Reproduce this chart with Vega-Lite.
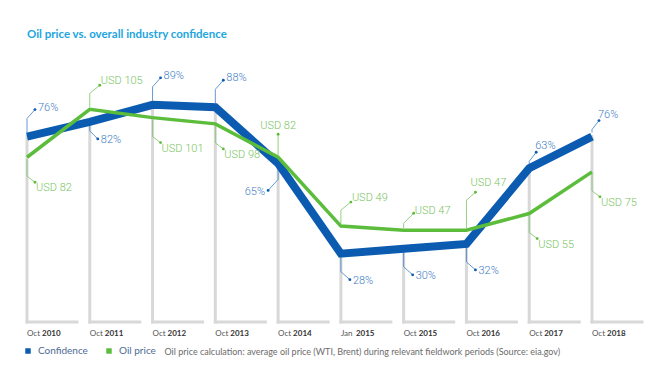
{
  "$schema": "https://vega.github.io/schema/vega-lite/v6.json",
  "autosize": {"type": "none"},
  "padding": {"left": 27, "top": 78, "right": 78, "bottom": 68},
  "width": 565,
  "height": 244,
  "title": {"text": "Oil price vs. overall industry confidence", "anchor": "start", "frame": "group", "font": "Lato", "fontSize": 11.5, "fontWeight": "bold", "color": "#22a5de", "offset": 29},
  "config": {
    "view": {"stroke": null},
    "text": {"font": "Roboto", "fontWeight": 300, "fontSize": 11},
    "legend": {"orient": "none", "legendX": -4, "legendY": 268, "direction": "horizontal", "symbolType": "square", "symbolSize": 30, "symbolStrokeWidth": 0, "labelFont": "Lato", "labelFontSize": 10, "labelColor": "#4d6b94", "columnPadding": 16, "labelOffset": 5, "padding": 0}
  },
  "data": {"values": [
    {"period": "Oct 2010", "month": "Oct", "year": "2010", "conf": 76, "oil": 82},
    {"period": "Oct 2011", "month": "Oct", "year": "2011", "conf": 82, "oil": 105},
    {"period": "Oct 2012", "month": "Oct", "year": "2012", "conf": 89, "oil": 101},
    {"period": "Oct 2013", "month": "Oct", "year": "2013", "conf": 88, "oil": 98},
    {"period": "Oct 2014", "month": "Oct", "year": "2014", "conf": 65, "oil": 82},
    {"period": "Jan 2015", "month": "Jan", "year": "2015", "conf": 28, "oil": 49},
    {"period": "Oct 2015", "month": "Oct", "year": "2015", "conf": 30, "oil": 47},
    {"period": "Oct 2016", "month": "Oct", "year": "2016", "conf": 32, "oil": 47},
    {"period": "Oct 2017", "month": "Oct", "year": "2017", "conf": 63, "oil": 55},
    {"period": "Oct 2018", "month": "Oct", "year": "2018", "conf": 76, "oil": 75}
  ]},
  "encoding": {
    "x": {"field": "period", "type": "ordinal", "sort": null, "scale": {"type": "point", "padding": 0},
      "axis": {"labels": false, "ticks": false, "domain": false, "grid": false,
        "title": "Oil price calculation: average oil price (WTI, Brent) during relevant fieldwork periods (Source: eia.gov)",
        "titleFont": "Lato", "titleFontSize": 9, "titleFontWeight": "normal", "titleColor": "#6b6b6b",
        "titleAnchor": "start", "titleAlign": "left", "titleX": 137, "titleY": 29, "titleBaseline": "middle"}}
  },
  "layer": [
    {
      "encoding": {"y": {"field": "conf", "type": "quantitative", "scale": {"domain": [0, 100]}, "axis": null}},
      "layer": [
        {"mark": {"type": "rule", "color": "#d8d8d8", "strokeWidth": 3, "strokeCap": "square"}, "encoding": {"y2": {"datum": 0}}},
        {"mark": {"type": "rule", "color": "#d8d8d8", "strokeWidth": 3, "strokeCap": "square", "x2Offset": 50}, "encoding": {"y": {"datum": 0}, "x2": {"field": "period"}}},
        {"mark": {"type": "text", "align": "left", "baseline": "middle", "dy": 12, "font": "Lato", "fontWeight": "normal", "fontSize": 8, "color": "#555555"}, "encoding": {"y": {"datum": 0}, "text": {"field": "month"}}},
        {"mark": {"type": "text", "align": "left", "baseline": "middle", "dy": 12, "dx": 15, "font": "Lato", "fontSize": 8, "fontWeight": "bold", "color": "#333333"}, "encoding": {"y": {"datum": 0}, "text": {"field": "year"}}},

        {"transform": [{"filter": {"field": "period", "oneOf": ["Oct 2010", "Oct 2012", "Oct 2013"]}}], "layer": [
          {"mark": {"type": "rule", "color": "#3f7ec6", "strokeWidth": 0.8, "yOffset": -4, "y2Offset": -18}, "encoding": {"y2": {"field": "conf"}}},
          {"mark": {"type": "rule", "color": "#3f7ec6", "strokeWidth": 0.8, "yOffset": -18, "x2Offset": 8, "y2Offset": -27}, "encoding": {"x2": {"field": "period"}, "y2": {"field": "conf"}}},
          {"mark": {"type": "point", "filled": true, "size": 8, "opacity": 1, "strokeWidth": 0, "xOffset": 8, "yOffset": -27}, "encoding": {"color": {"datum": "Confidence", "scale": {"domain": ["Confidence", "Oil price"], "range": ["#0b5cb0", "#5cbd3c"]}, "title": null}}},
          {"transform": [{"calculate": "datum.conf + '%'", "as": "lbl"}], "mark": {"type": "text", "align": "left", "baseline": "middle", "dx": 11, "dy": -29, "color": "#3f7ec6"}, "encoding": {"text": {"field": "lbl"}}}
        ]},
        {"transform": [{"filter": {"field": "period", "oneOf": ["Oct 2017", "Oct 2018"]}}], "layer": [
          {"mark": {"type": "rule", "color": "#3f7ec6", "strokeWidth": 0.8, "yOffset": -4, "y2Offset": -7}, "encoding": {"y2": {"field": "conf"}}},
          {"mark": {"type": "rule", "color": "#3f7ec6", "strokeWidth": 0.8, "yOffset": -7, "x2Offset": 7, "y2Offset": -16}, "encoding": {"x2": {"field": "period"}, "y2": {"field": "conf"}}},
          {"mark": {"type": "point", "filled": true, "size": 8, "opacity": 1, "strokeWidth": 0, "xOffset": 7, "yOffset": -16}, "encoding": {"color": {"datum": "Confidence", "scale": {"domain": ["Confidence", "Oil price"], "range": ["#0b5cb0", "#5cbd3c"]}, "title": null}}},
          {"transform": [{"calculate": "datum.conf + '%'", "as": "lbl"}], "mark": {"type": "text", "align": "left", "baseline": "middle", "dx": 6, "dy": -22, "color": "#3f7ec6"}, "encoding": {"text": {"field": "lbl"}}}
        ]},
        {"transform": [{"filter": {"field": "period", "oneOf": ["Oct 2011"]}}], "layer": [
          {"mark": {"type": "rule", "color": "#3f7ec6", "strokeWidth": 0.8, "yOffset": 4, "y2Offset": 9}, "encoding": {"y2": {"field": "conf"}}},
          {"mark": {"type": "rule", "color": "#3f7ec6", "strokeWidth": 0.8, "yOffset": 9, "x2Offset": 8, "y2Offset": 17}, "encoding": {"x2": {"field": "period"}, "y2": {"field": "conf"}}},
          {"mark": {"type": "point", "filled": true, "size": 8, "opacity": 1, "strokeWidth": 0, "xOffset": 8, "yOffset": 17}, "encoding": {"color": {"datum": "Confidence", "scale": {"domain": ["Confidence", "Oil price"], "range": ["#0b5cb0", "#5cbd3c"]}, "title": null}}},
          {"transform": [{"calculate": "datum.conf + '%'", "as": "lbl"}], "mark": {"type": "text", "align": "left", "baseline": "middle", "dx": 11, "dy": 18, "color": "#3f7ec6"}, "encoding": {"text": {"field": "lbl"}}}
        ]},
        {"transform": [{"filter": {"field": "period", "oneOf": ["Jan 2015", "Oct 2015", "Oct 2016"]}}], "layer": [
          {"mark": {"type": "rule", "color": "#3f7ec6", "strokeWidth": 0.8, "yOffset": 4, "y2Offset": 18}, "encoding": {"y2": {"field": "conf"}}},
          {"mark": {"type": "rule", "color": "#3f7ec6", "strokeWidth": 0.8, "yOffset": 18, "x2Offset": 9, "y2Offset": 26}, "encoding": {"x2": {"field": "period"}, "y2": {"field": "conf"}}},
          {"mark": {"type": "point", "filled": true, "size": 8, "opacity": 1, "strokeWidth": 0, "xOffset": 9, "yOffset": 26}, "encoding": {"color": {"datum": "Confidence", "scale": {"domain": ["Confidence", "Oil price"], "range": ["#0b5cb0", "#5cbd3c"]}, "title": null}}},
          {"transform": [{"calculate": "datum.conf + '%'", "as": "lbl"}], "mark": {"type": "text", "align": "left", "baseline": "middle", "dx": 12, "dy": 27, "color": "#3f7ec6"}, "encoding": {"text": {"field": "lbl"}}}
        ]},
        {"transform": [{"filter": {"field": "period", "oneOf": ["Oct 2014"]}}], "layer": [
          {"mark": {"type": "rule", "color": "#3f7ec6", "strokeWidth": 0.8, "yOffset": 4, "y2Offset": 16}, "encoding": {"y2": {"field": "conf"}}},
          {"mark": {"type": "rule", "color": "#3f7ec6", "strokeWidth": 0.8, "yOffset": 16, "x2Offset": -10, "y2Offset": 27}, "encoding": {"x2": {"field": "period"}, "y2": {"field": "conf"}}},
          {"mark": {"type": "point", "filled": true, "size": 8, "opacity": 1, "strokeWidth": 0, "xOffset": -10, "yOffset": 27}, "encoding": {"color": {"datum": "Confidence", "scale": {"domain": ["Confidence", "Oil price"], "range": ["#0b5cb0", "#5cbd3c"]}, "title": null}}},
          {"transform": [{"calculate": "datum.conf + '%'", "as": "lbl"}], "mark": {"type": "text", "align": "right", "baseline": "middle", "dx": -13, "dy": 29, "color": "#3f7ec6"}, "encoding": {"text": {"field": "lbl"}}}
        ]},

        {"mark": {"type": "line", "color": "#0b5cb0", "strokeWidth": 8}}
      ]
    },
    {
      "encoding": {"y": {"field": "oil", "type": "quantitative", "scale": {"domain": [3, 120], "zero": false}, "axis": null}},
      "layer": [
        {"transform": [{"filter": {"field": "period", "oneOf": ["Oct 2010", "Oct 2012", "Oct 2013", "Oct 2017", "Oct 2018"]}}], "layer": [
          {"mark": {"type": "rule", "color": "#79c462", "strokeWidth": 0.8, "yOffset": 2, "y2Offset": 19}, "encoding": {"y2": {"field": "oil"}}},
          {"mark": {"type": "rule", "color": "#79c462", "strokeWidth": 0.8, "yOffset": 19, "x2Offset": 8, "y2Offset": 25}, "encoding": {"x2": {"field": "period"}, "y2": {"field": "oil"}}},
          {"mark": {"type": "point", "filled": true, "size": 8, "opacity": 1, "strokeWidth": 0, "xOffset": 8, "yOffset": 25}, "encoding": {"color": {"datum": "Oil price", "scale": {"domain": ["Confidence", "Oil price"], "range": ["#0b5cb0", "#5cbd3c"]}, "title": null}}},
          {"transform": [{"calculate": "'USD ' + datum.oil", "as": "lbl"}], "mark": {"type": "text", "align": "left", "baseline": "middle", "dx": 9, "dy": 31, "color": "#79c462"}, "encoding": {"text": {"field": "lbl"}}}
        ]},
        {"transform": [{"filter": {"field": "period", "oneOf": ["Oct 2011", "Jan 2015"]}}], "layer": [
          {"mark": {"type": "rule", "color": "#79c462", "strokeWidth": 0.8, "yOffset": -2, "y2Offset": -16}, "encoding": {"y2": {"field": "oil"}}},
          {"mark": {"type": "rule", "color": "#79c462", "strokeWidth": 0.8, "yOffset": -16, "x2Offset": 10, "y2Offset": -24}, "encoding": {"x2": {"field": "period"}, "y2": {"field": "oil"}}},
          {"mark": {"type": "point", "filled": true, "size": 8, "opacity": 1, "strokeWidth": 0, "xOffset": 10, "yOffset": -24}, "encoding": {"color": {"datum": "Oil price", "scale": {"domain": ["Confidence", "Oil price"], "range": ["#0b5cb0", "#5cbd3c"]}, "title": null}}},
          {"transform": [{"calculate": "'USD ' + datum.oil", "as": "lbl"}], "mark": {"type": "text", "align": "left", "baseline": "middle", "dx": 11, "dy": -28, "color": "#79c462"}, "encoding": {"text": {"field": "lbl"}}}
        ]},
        {"transform": [{"filter": {"field": "period", "oneOf": ["Oct 2015"]}}], "layer": [
          {"mark": {"type": "rule", "color": "#79c462", "strokeWidth": 0.8, "yOffset": -2, "y2Offset": -7}, "encoding": {"y2": {"field": "oil"}}},
          {"mark": {"type": "rule", "color": "#79c462", "strokeWidth": 0.8, "yOffset": -7, "x2Offset": 10, "y2Offset": -17}, "encoding": {"x2": {"field": "period"}, "y2": {"field": "oil"}}},
          {"mark": {"type": "point", "filled": true, "size": 8, "opacity": 1, "strokeWidth": 0, "xOffset": 10, "yOffset": -17}, "encoding": {"color": {"datum": "Oil price", "scale": {"domain": ["Confidence", "Oil price"], "range": ["#0b5cb0", "#5cbd3c"]}, "title": null}}},
          {"transform": [{"calculate": "'USD ' + datum.oil", "as": "lbl"}], "mark": {"type": "text", "align": "left", "baseline": "middle", "dx": 11, "dy": -19, "color": "#79c462"}, "encoding": {"text": {"field": "lbl"}}}
        ]},
        {"transform": [{"filter": {"field": "period", "oneOf": ["Oct 2016"]}}], "layer": [
          {"mark": {"type": "rule", "color": "#79c462", "strokeWidth": 0.8, "yOffset": -2, "y2Offset": -30}, "encoding": {"y2": {"field": "oil"}}},
          {"mark": {"type": "rule", "color": "#79c462", "strokeWidth": 0.8, "yOffset": -30, "x2Offset": 9, "y2Offset": -38}, "encoding": {"x2": {"field": "period"}, "y2": {"field": "oil"}}},
          {"mark": {"type": "point", "filled": true, "size": 8, "opacity": 1, "strokeWidth": 0, "xOffset": 9, "yOffset": -38}, "encoding": {"color": {"datum": "Oil price", "scale": {"domain": ["Confidence", "Oil price"], "range": ["#0b5cb0", "#5cbd3c"]}, "title": null}}},
          {"transform": [{"calculate": "'USD ' + datum.oil", "as": "lbl"}], "mark": {"type": "text", "align": "left", "baseline": "middle", "dx": 4, "dy": -47, "color": "#79c462"}, "encoding": {"text": {"field": "lbl"}}}
        ]},
        {"transform": [{"filter": {"field": "period", "oneOf": ["Oct 2014"]}}], "layer": [
          {"mark": {"type": "rule", "color": "#79c462", "strokeWidth": 0.8, "yOffset": -2, "y2Offset": -23}, "encoding": {"y2": {"field": "oil"}}},
          {"mark": {"type": "point", "filled": true, "size": 8, "opacity": 1, "strokeWidth": 0, "yOffset": -23}, "encoding": {"color": {"datum": "Oil price", "scale": {"domain": ["Confidence", "Oil price"], "range": ["#0b5cb0", "#5cbd3c"]}, "title": null}}},
          {"transform": [{"calculate": "'USD ' + datum.oil", "as": "lbl"}], "mark": {"type": "text", "align": "center", "baseline": "middle", "dy": -31, "color": "#79c462"}, "encoding": {"text": {"field": "lbl"}}}
        ]},

        {"mark": {"type": "line", "color": "#5cbd3c", "strokeWidth": 3.5}}
      ]
    }
  ],
  "resolve": {"scale": {"y": "independent"}}
}
